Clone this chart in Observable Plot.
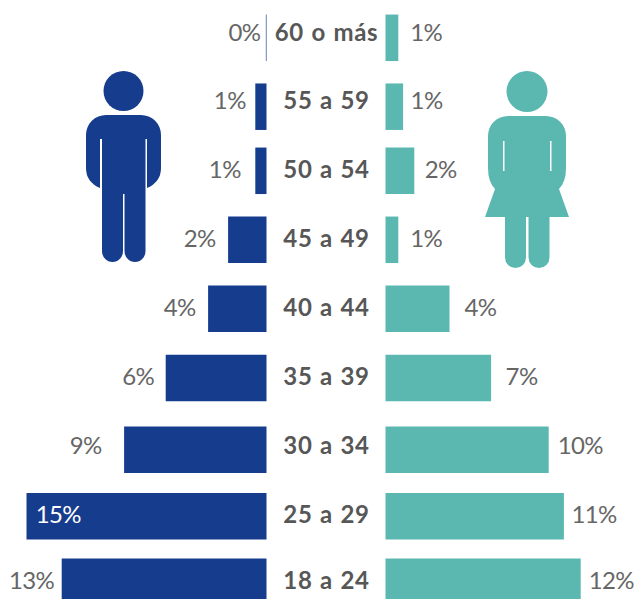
<!DOCTYPE html>
<html>
<head>
<meta charset="utf-8">
<style>html,body{margin:0;padding:0;background:#fff;overflow:hidden}svg{display:block}
.age text{letter-spacing:.7px;word-spacing:1px}
.val text{letter-spacing:-.6px}
</style>
<script src="https://cdn.jsdelivr.net/npm/d3@7"></script>
<script src="https://cdn.jsdelivr.net/npm/@observablehq/plot@0.6"></script>
</head>
<body>
<div id="chart"></div>
<script>
const ageGroups = ["60 o más","55 a 59","50 a 54","45 a 49","40 a 44","35 a 39","30 a 34","25 a 29","18 a 24"];
const menPct    = [0.04,0.7,0.7,2.4,3.65,6.3,8.9,15.0,12.8];
const womenPct  = [0.8,1.1,1.8,0.8,4.0,6.6,10.2,11.15,12.2];
const menLabels   = ["0%","1%","1%","2%","4%","6%","9%","15%","13%"];
const womenLabels = ["1%","1%","2%","1%","4%","7%","10%","11%","12%"];

// layout (not data)
const pxPerPct = 16, width = 635, height = 599, zeroMen = 266.5, zeroWomen = 385.5;
const gap = (zeroWomen - zeroMen) / pxPerPct;
const rowCenters   = [37.3,106.2,170.3,239.3,308.2,377.5,449.3,515.8,581.3];
const labelCenters = [32.5,101,170,239,308,377,446,515,581];
const menLabelGap   = [6,10,15,13,13,12,23,-54,8];
const womenLabelGap = [11.5,7,10,11.5,14.5,14,8.5,7,7.5];
const navy = "#163c8e", teal = "#5bb8b1", grey = "#666666", dark = "#575757";

const rows = ageGroups.map((age,i)=>({
  age, men: menPct[i], women: womenPct[i], ml: menLabels[i], wl: womenLabels[i],
  barY: rowCenters[i], labelY: labelCenters[i],
  mx: -menPct[i] - menLabelGap[i]/pxPerPct,
  wx: gap + womenPct[i] + womenLabelGap[i]/pxPerPct
}));

function icons(){
  const g = d3.create("svg:g");
  g.append("circle").attr("cx",123.5).attr("cy",91).attr("r",20).attr("fill",navy);
  g.append("path").attr("fill",navy).attr("d",
    "M106 115H141A20 20 0 0 1 161 135V168Q161 182 147 188V139H145.5V251A10.5 11 0 0 1 124.5 251V194H123V251A10.5 11 0 0 1 102 251V139H100V188Q86 182 86 168V135A20 20 0 0 1 106 115Z");
  g.append("circle").attr("cx",527).attr("cy",91.5).attr("r",20.5).attr("fill",teal);
  g.append("path").attr("fill",teal).attr("d",
    "M508 116H546A20 20 0 0 1 566 136V168Q566 182 559 189L569 217H549.5V257.5A10.5 10.5 0 0 1 528.5 257.5V217H526V257.5A10.5 10.5 0 0 1 505 257.5V217H485L495 189Q488 182 488 168V136A20 20 0 0 1 508 116Z");
  for (const x of [503,550]) g.append("rect").attr("x",x).attr("y",141).attr("width",1.5).attr("height",30).attr("fill","#fff");
  return g.node();
}

const text = {fontFamily:"Lato, sans-serif", fontSize:24, lineAnchor:"middle"};
const plot = Plot.plot({
  width, height, margin:0,
  style:{background:"#fff", fontFamily:"Lato, sans-serif"},
  x:{axis:null, domain:[-zeroMen/pxPerPct,(width-zeroMen)/pxPerPct], range:[0,width]},
  y:{axis:null, type:"linear", domain:[0,height], range:[0,height]},
  marks:[
    Plot.ruleY(rows,{y:"barY", x1:0, x2:d=>-d.men, stroke:navy, strokeWidth:46.5}),
    Plot.ruleY(rows,{y:"barY", x1:gap, x2:d=>gap+d.women, stroke:teal, strokeWidth:46.5}),
    Plot.text(rows,{...text, className:"age", x:gap/2, y:"labelY", text:"age", fontWeight:700, fill:dark, textAnchor:"middle"}),
    Plot.text(rows.filter(d=>d.ml!=="15%"),{...text, className:"val", x:"mx", y:"labelY", text:"ml", fill:grey, textAnchor:"end"}),
    Plot.text(rows.filter(d=>d.ml==="15%"),{...text, className:"val", x:"mx", y:"labelY", text:"ml", fill:"#fff", textAnchor:"end"}),
    Plot.text(rows,{...text, className:"val", x:"wx", y:"labelY", text:"wl", fill:grey, textAnchor:"start"}),
    icons
  ]
});
document.getElementById("chart").append(plot);
</script>
</body>
</html>
